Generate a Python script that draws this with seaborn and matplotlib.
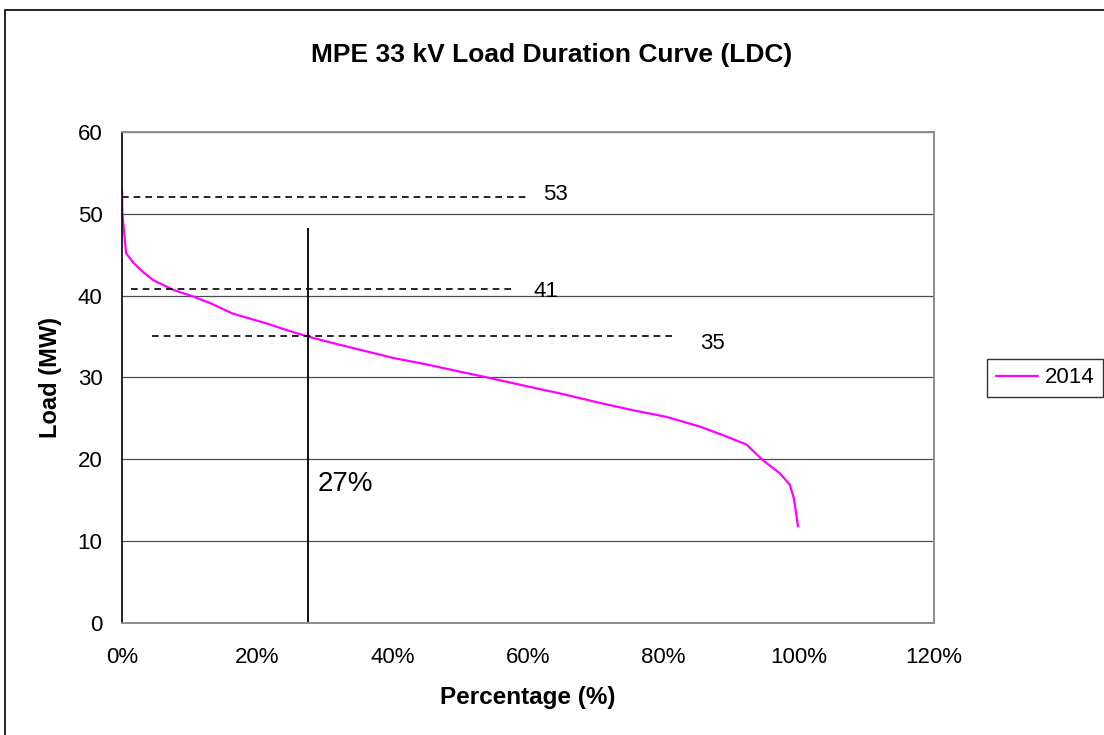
import pandas as pd
import matplotlib.pyplot as plt
import matplotlib.patches as patches
from matplotlib.ticker import PercentFormatter
import seaborn as sns

# load duration curve
pct = [0, 0.05, 0.6, 1.7, 3.1, 4.6, 7.6, 10.5, 13, 16.4, 18.9, 21.4, 24.3, 27.5,
       31.2, 36.1, 40, 45, 50, 54, 60, 65, 70.6, 75.5, 80.4, 85.4, 89.3, 92.3,
       94.7, 97.2, 98.7, 99.3, 99.9]
load = [53.1, 50.1, 45.2, 44.0, 42.9, 41.9, 40.7, 39.9, 39.1, 37.8, 37.2, 36.6,
        35.8, 35.0, 34.2, 33.2, 32.4, 31.6, 30.7, 30.0, 28.9, 28.0, 26.9, 26.0,
        25.2, 24.0, 22.8, 21.8, 19.9, 18.3, 16.9, 15.2, 11.8]

# dashed reference levels
ref_levels = [52.1, 40.8, 35.1]
ref_start = [0, 1.4, 4.4]
ref_end = [60, 57.8, 81.3]
ref_labels = ["53", "41", "35"]
ref_label_x = [62.2, 60.8, 85.5]
ref_label_y = [52.4, 40.5, 34.2]

# vertical marker
marker_x = 27.5
marker_top = 48.3
marker_label = "27%"

df = pd.DataFrame({"Percentage": pct, "Load": load, "Year": "2014"})

sns.set_style("white")
plt.rcParams["font.family"] = ["Liberation Sans", "DejaVu Sans"]
plt.rcParams["text.color"] = "black"
plt.rcParams["axes.labelcolor"] = "black"
plt.rcParams["xtick.color"] = "black"
plt.rcParams["ytick.color"] = "black"

fig = plt.figure(figsize=(11.04, 7.35), dpi=100)
ax = fig.add_axes([0.1105, 0.1524, 0.7355, 0.668])

sns.lineplot(data=df, x="Percentage", y="Load", hue="Year",
             palette={"2014": "#FF00FF"}, linewidth=1.6, ax=ax, sort=False)

for lv, x0, x1, lab, lx, ly in zip(ref_levels, ref_start, ref_end,
                                    ref_labels, ref_label_x, ref_label_y):
    ax.hlines(lv, x0, x1, colors="black", linestyles=(0, (4, 3)), linewidth=1.2)
    ax.text(lx, ly, lab, fontsize=16, va="center", ha="left")

ax.vlines(marker_x, 0, marker_top, colors="black", linewidth=1.3)
ax.text(marker_x + 1.4, 17, marker_label, fontsize=20, va="center", ha="left")

ax.set_xlim(0, 120)
ax.set_ylim(0, 60)
ax.set_xticks(range(0, 121, 20))
ax.set_yticks(range(0, 61, 10))
ax.xaxis.set_major_formatter(PercentFormatter(xmax=100, decimals=0))
ax.yaxis.grid(True, color="0.3", linewidth=0.9)
ax.set_axisbelow(True)

ax.tick_params(axis="y", direction="out", length=6, width=1, color="black",
               labelsize=16, pad=8)
ax.tick_params(axis="x", direction="out", length=6, width=1, color="0.45",
               labelsize=16, pad=11)

ax.spines["left"].set_color("black")
ax.spines["left"].set_linewidth(1.2)
for s in ["bottom", "right", "top"]:
    ax.spines[s].set_color("0.55")
    ax.spines[s].set_linewidth(1.4)

ax.set_xlabel("Percentage (%)", fontsize=17.5, fontweight="bold", labelpad=13)
ax.set_ylabel("Load (MW)", fontsize=17, fontweight="bold", labelpad=11)
fig.text(0.5, 1 - 55 / 735, "MPE 33 kV Load Duration Curve (LDC)",
         fontsize=19, fontweight="bold", ha="center", va="center")

leg = ax.legend(loc="center left", bbox_to_anchor=(987 / 1104, 1 - 378 / 735),
                bbox_transform=fig.transFigure, fontsize=16, frameon=True,
                fancybox=False, handlelength=1.9, borderpad=0.4,
                handletextpad=0.3, borderaxespad=0, title=None)
leg.get_frame().set_edgecolor("black")
leg.get_frame().set_linewidth(1.0)

# outer chart border (cut off at right and bottom)
fig.add_artist(patches.Rectangle((5 / 1104, -0.1), 1.2, 1 - 10 / 735 + 0.1,
                                 fill=False, edgecolor="black", linewidth=1.2,
                                 transform=fig.transFigure))

fig.savefig("out.png", dpi=100)
